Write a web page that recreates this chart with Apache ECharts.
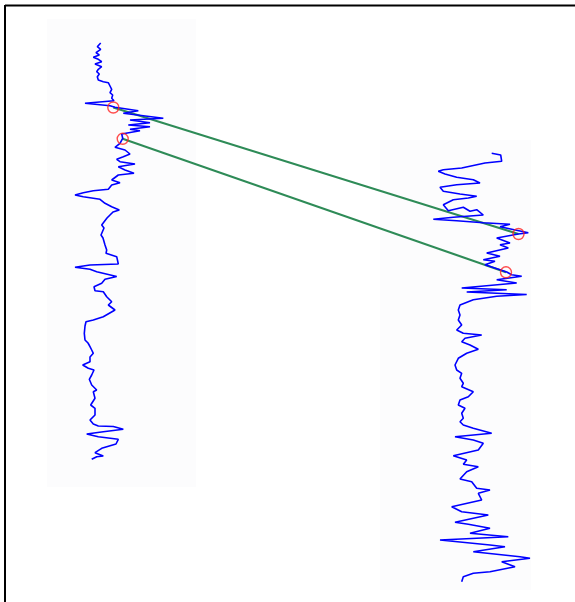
<!DOCTYPE html>
<html>
<head>
<meta charset="utf-8">
<script src="https://cdn.jsdelivr.net/npm/echarts@6/dist/echarts.min.js"></script>
<style>
  html, body { margin: 0; padding: 0; background: #ffffff; }
  #chart { width: 575px; height: 602px; }
</style>
</head>
<body>
<div id="chart"></div>
<script>
// Well A log trace: [reading, depth]
var wellA = [
  [100.7,43],[97.3,46.7],[100.7,49.3],[96,52.7],[99.3,55],[93.3,57.3],[98.3,59.3],[101.7,61.7],
  [95,64],[101.7,66.7],[98.3,69.3],[96.7,71.7],[99.3,74],[97.3,76.7],[98.3,80],[103.3,81.7],
  [108.3,82.7],[110,86],[111.7,89.3],[110,92.7],[112.7,95],[111.7,98.3],[114,100.7],
  [85,103.3],[110,105.7],[115,107.3],
  [138.3,110.7],[123.3,113.3],[163.3,118.3],[130,120],[150,122.7],[128.3,125],[150,126.7],
  [130,129.3],[140,130.7],[121.7,134],[122.7,138.3],[120,143.3],[115,147.3],[125,150],[130,154],
  [123.3,156.7],[116.7,159.3],[120,161.7],[135,164],[118.3,166.7],[125,170],[134,173.3],
  [118.3,175],[111.7,180],[120,182.7],[111.7,185],[108.3,189.3],[93.3,190.7],[83.3,192.7],
  [75,195],[83.3,196.7],[100,199.3],[105,203.3],[111.7,206.7],[119.3,210],[113,212],[110,215],
  [107,218],[105,220],[101.7,225],[104,228],[102,230],[101,235],[103,238],[101.7,240],[105,245],
  [106.7,250],[106,253.3],[116.7,256.7],[118.3,264],[90,265],[75,267.3],[90,269.3],[96.7,271.7],
  [116.7,276.5],[105,279.3],[101.7,283.3],[94,286.7],[95,290.7],[103.3,291.7],[106.7,296.7],
  [111.7,301.7],[108.3,305],[115,310],[103.3,316.7],[93.3,320],[86,321.7],[85,326],[84.3,333.3],
  [85,340],[88,343],[90,346.7],[91.7,350],[93.3,353.3],[90,357],[90,361.7],[82.7,365],[88.3,368.3],
  [94,370],[91.7,375],[89.3,379.3],[91.7,385],[96.7,390],[93.3,391.7],[95,398.3],[90.7,405],
  [95,408.3],[95,415],[90,420],[93.3,424],[98.3,426],[113.3,426.5],[123.3,429.3],[103.3,431.7],
  [86.7,434],[98.3,436.7],[118.3,439.3],[116,444],[101.7,448.3],[95,452.7],[103.3,456],
  [96.7,456.7],[91.7,459.3]
];

// Well B log trace: [reading, depth]
var wellB = [
  [491.7,153.3],[500.7,155],[501.7,161.3],[485,163],[461.7,168],[443.3,169.7],[438.3,171.3],
  [445,174],[456.7,177.3],[473.3,179.7],[480,183],[456.7,184.7],[440,187.3],[443.3,191.3],
  [460,194],[476.7,196.3],[468.3,198],[453.3,199.7],[443.3,204.7],[448.3,210.7],[463.3,207.3],
  [470,211.3],[476.7,209.7],[483.3,215],[453.3,217.3],[433.3,219.3],[456.7,220.7],[483.3,222.7],
  [510,224.3],[500,226.7],[528.3,232.7],[518.3,234],[496.7,238],[510,243],[500,244.7],
  [508.3,248],[486.7,253],[500,256.3],[483.3,259.7],[495,261.3],[485,264.7],[500,269.7],
  [506.7,272],[511.7,274.7],[521.7,276.3],[496.7,279.7],[516.7,283],[461.7,288],[506.7,289.7],
  [466.7,292],[526.7,294.5],[496.7,296.3],[473.3,299.7],[460,305],[458.3,310],[460,315],
  [458.3,320],[461.7,325],[456.7,330],[463.3,333.3],[481.7,335],[465,338.3],[461.7,341.7],
  [470,345],[478.3,349.3],[466.7,353.3],[458.3,358.3],[455,365],[456.7,370],[461.7,373.3],
  [460,378.3],[463.3,383.3],[461.7,386.7],[473.3,391.7],[468.3,396.7],[460,400],[458.3,405],
  [465,408.3],[461.7,413.3],[463.3,418.3],[460,421.7],[463.3,425],[473.3,428.3],[491.7,433.3],
  [455,436.7],[473.3,440],[483.3,443.3],[478.3,450],[453.3,455.7],[466.7,460],[463.3,464.3],
  [478.3,466.7],[466.7,471.7],[460,479],[471.7,481.7],[476.7,488.3],[490,490],[478.3,493.3],
  [481.7,500],[451.7,506.7],[461.7,511.7],[488.3,515],[455,522.3],[468.3,524.3],[490,528.3],
  [470,533.3],[508.3,536.7],[440,540],[490,545],[505,546.7],[473.3,551.7],[520,556.7],
  [530,558.3],[501.7,561.7],[515,566.7],[490,571.7],[473.3,573.3],[463.3,576.7],[461.7,581.7]
];

// Picked formation tops on each well: [reading, depth]
var topsA = [[113.3,107.5],[122.7,138.8]];
var topsB = [[518.5,234],[506,272.3]];

// Track extents: [left, right, top depth, bottom depth]
var trackA = [47, 196, 19, 487];
var trackB = [380, 531, 140, 590];

var chart = echarts.init(document.getElementById('chart'), null, { renderer: 'canvas' });

function trackArea(t) {
  return [[{ coord: [t[0], t[2]] }, { coord: [t[1], t[3]] }]];
}

var series = [];

// faint track backgrounds
series.push({
  type: 'line', data: [], silent: true,
  markArea: {
    silent: true,
    itemStyle: { color: '#fcfcfd' },
    data: trackArea(trackA).concat(trackArea(trackB))
  }
});

// correlation lines between matching tops
topsA.forEach(function (p, i) {
  series.push({
    type: 'line', data: [p, topsB[i]], showSymbol: false, silent: true, z: 3,
    lineStyle: { color: '#2e8b57', width: 2 }
  });
});

// log curves
[wellA, wellB].forEach(function (d) {
  series.push({
    type: 'line', data: d, showSymbol: false, silent: true, z: 4,
    lineStyle: { color: '#0000ff', width: 1.6 }
  });
});

// top markers
series.push({
  type: 'scatter', data: topsA.concat(topsB), symbol: 'circle', symbolSize: 11, z: 5,
  itemStyle: { color: 'rgba(0,0,0,0)', borderColor: '#ff2020', borderWidth: 1.4 }
});

chart.setOption({
  animation: false,
  backgroundColor: '#ffffff',
  grid: { left: 0, right: 0, top: 0, bottom: 0 },
  xAxis: { type: 'value', min: 0, max: 575, show: false },
  yAxis: { type: 'value', min: 0, max: 602, inverse: true, show: false },
  graphic: [
    { type: 'line', shape: { x1: 5, y1: 5.5, x2: 575, y2: 5.5 }, style: { stroke: '#000', lineWidth: 2 } },
    { type: 'line', shape: { x1: 5, y1: 5, x2: 5, y2: 602 }, style: { stroke: '#000', lineWidth: 2 } }
  ],
  series: series
});
</script>
</body>
</html>
